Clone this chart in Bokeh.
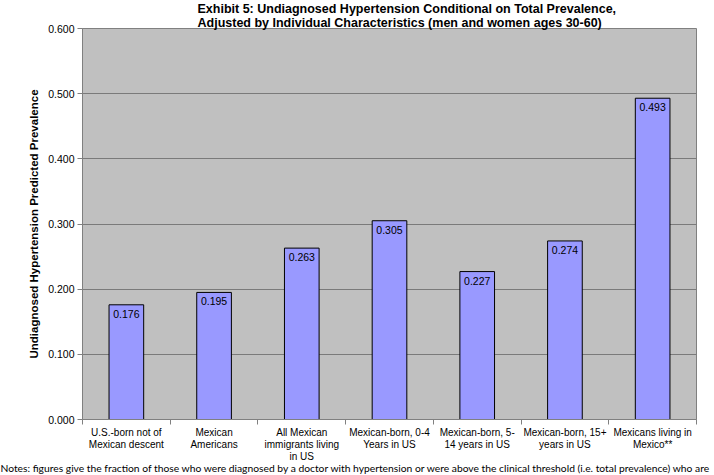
from bokeh.plotting import figure
from bokeh.models import FixedTicker, ColumnDataSource, NumeralTickFormatter, Title
from bokeh.core.properties import value
from bokeh.embed import file_html
from bokeh.resources import INLINE

categories = ["U.S.-born not of\nMexican descent", "Mexican\nAmericans",
              "All Mexican\nimmigrants living\nin US", "Mexican-born, 0-4\nYears in US",
              "Mexican-born, 5-\n14 years in US", "Mexican-born, 15+\nyears in US",
              "Mexicans living in\nMexico**"]
values = [0.176, 0.195, 0.263, 0.305, 0.227, 0.274, 0.493]
value_labels = ["0.176", "0.195", "0.263", "0.305", "0.227", "0.274", "0.493"]
y_ticks = [0.0, 0.1, 0.2, 0.3, 0.4, 0.5, 0.6]

title_1 = "Exhibit 5: Undiagnosed Hypertension Conditional on Total Prevalence,"
title_2 = "Adjusted by Individual Characteristics  (men and women ages 30-60)"
y_title = "Undiagnosed Hypertension Predicted Prevalence"
notes = ("Notes: figures give the fraction of those who were diagnosed by a doctor with hypertension "
         "or were above the clinical threshold  (i.e. total prevalence) who  are")

n = len(categories)
centers = [i + 0.5 for i in range(n)]
src = ColumnDataSource(dict(x=centers, top=values, lab=value_labels))

FONT = "Liberation Sans"

p = figure(width=714, height=475, x_range=(0, n), y_range=(0, 0.6), title=None,
           output_backend="svg", toolbar_location=None,
           min_border_left=82, min_border_right=18, min_border_top=28, min_border_bottom=56)
p.background_fill_color = "#C0C0C0"
p.border_fill_color = "white"
p.outline_line_color = "#808080"
p.outline_line_width = 1

p.vbar(x="x", top="top", width=0.395, bottom=0, source=src,
       fill_color="#9999FF", line_color="black", line_width=1)
p.text(x="x", y="top", text="lab", source=src, text_align="center", text_baseline="top",
       y_offset=5, text_font=value(FONT), text_font_size="10.5px", text_color="black")

# y axis
p.yaxis.ticker = FixedTicker(ticks=y_ticks)
p.yaxis.formatter = NumeralTickFormatter(format="0.000")
p.yaxis.major_label_text_font = FONT
p.yaxis.major_label_text_font_size = "10.5px"
p.yaxis.major_label_text_color = "black"
p.yaxis.major_tick_out = 5
p.yaxis.major_tick_in = 0
p.yaxis.minor_tick_line_color = None
p.yaxis.major_label_standoff = 3
p.yaxis.axis_line_color = "#808080"
p.yaxis.major_tick_line_color = "#808080"
p.yaxis.axis_label = y_title
p.yaxis.axis_label_text_font = FONT
p.yaxis.axis_label_text_font_size = "11.5px"
p.yaxis.axis_label_text_font_style = "bold"
p.yaxis.axis_label_text_color = "black"
p.yaxis.axis_label_standoff = 5

# x axis
p.xaxis.ticker = FixedTicker(ticks=centers, minor_ticks=list(range(n + 1)))
p.xaxis.major_label_overrides = {c: lab for c, lab in zip(centers, categories)}
p.xaxis.major_label_text_font = FONT
p.xaxis.major_label_text_font_size = "10px"
p.xaxis.major_label_text_color = "black"
p.xaxis.major_label_text_line_height = 1.1
p.xaxis.major_tick_line_color = None
p.xaxis.minor_tick_line_color = "#808080"
p.xaxis.minor_tick_out = 5
p.xaxis.minor_tick_in = 0
p.xaxis.major_tick_out = 5
p.xaxis.major_label_standoff = 2
p.xaxis.axis_line_color = "#808080"

p.xgrid.grid_line_color = None
p.ygrid.grid_line_color = "#7a7a7a"
p.ygrid.grid_line_width = 1

p.add_layout(Title(text=title_1 + "\n" + title_2, align="left", offset=115, standoff=-3,
                   text_font=FONT, text_font_size="12.5px", text_font_style="bold",
                   text_line_height=1.0, text_color="black"), "above")
p.add_layout(Title(text=notes, align="left", offset=-82, standoff=-9,
                   text_font="Lato", text_font_size="10.3px", text_font_style="normal",
                   text_color="black"), "below")

open("out.html", "w").write(file_html(p, INLINE))
